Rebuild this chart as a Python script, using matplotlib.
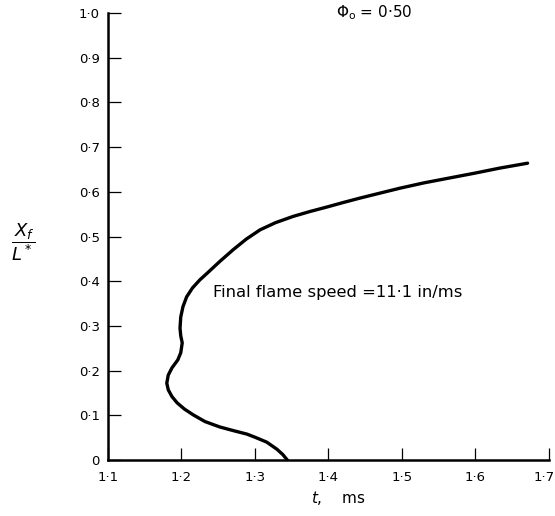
import matplotlib
matplotlib.use("Agg")
import matplotlib.pyplot as plt
import matplotlib.transforms as mtransforms

# flame position X_f/L* versus time t (ms)
t_ms = [1.344, 1.338, 1.330, 1.316, 1.300, 1.289, 1.270, 1.252, 1.232, 1.216,
        1.204, 1.194, 1.187, 1.182, 1.180, 1.182, 1.187, 1.195, 1.199, 1.201,
        1.199, 1.198, 1.199, 1.202, 1.207, 1.215, 1.225, 1.235, 1.252, 1.270,
        1.288, 1.307, 1.328, 1.352, 1.375, 1.398, 1.420, 1.443, 1.470, 1.497,
        1.530, 1.565, 1.600, 1.633, 1.671]
xf = [0.000, 0.012, 0.024, 0.040, 0.051, 0.058, 0.066, 0.074, 0.086, 0.101,
      0.114, 0.128, 0.142, 0.157, 0.172, 0.190, 0.206, 0.224, 0.240, 0.262,
      0.278, 0.295, 0.320, 0.343, 0.365, 0.385, 0.403, 0.418, 0.444, 0.470,
      0.494, 0.515, 0.531, 0.545, 0.556, 0.566, 0.576, 0.586, 0.597, 0.608,
      0.620, 0.631, 0.642, 0.653, 0.664]

xticks = [1.1, 1.2, 1.3, 1.4, 1.5, 1.6, 1.7]
xlabels = ["1·1", "1·2", "1·3", "1·4", "1·5", "1·6", "1·7"]
yticks = [0.0, 0.1, 0.2, 0.3, 0.4, 0.5, 0.6, 0.7, 0.8, 0.9, 1.0]
ylabels = ["0", "0·1", "0·2", "0·3", "0·4", "0·5", "0·6", "0·7", "0·8", "0·9", "1·0"]

fig = plt.figure(figsize=(5.55, 5.16), dpi=100)
ax = fig.add_axes([0.1946, 0.1085, 0.7944, 0.8663])

ax.plot(t_ms, xf, color="black", linewidth=2.4, solid_capstyle="round",
        solid_joinstyle="round")

ax.set_xlim(1.1, 1.7)
ax.set_ylim(0, 1.0)
ax.spines["top"].set_visible(False)
ax.spines["right"].set_visible(False)
ax.spines["left"].set_linewidth(1.8)
ax.spines["bottom"].set_linewidth(1.8)

ax.set_xticks(xticks)
ax.set_xticklabels(xlabels)
ax.set_yticks(yticks)
ax.set_yticklabels(ylabels)
ax.tick_params(direction="in", length=9, width=0.9, labelsize=9.5, pad=6)
ax.tick_params(axis="x", pad=8)

# last x label sits against the right edge of the figure
last = ax.get_xticklabels()[-1]
last.set_transform(last.get_transform() +
                   mtransforms.ScaledTranslation(-5 / 100, 0, fig.dpi_scale_trans))

ax.text(1.243, 0.374, "Final flame speed =11·1 in/ms", fontsize=11.8, va="center")
ax.text(1.41, 1.0, r"$\Phi_{\rm o}$ = 0·50", fontsize=11, va="center")

fig.text(0.61, 0.035, r"$t$,    ms", fontsize=11, ha="center", va="center")
fig.text(0.042, 0.53, r"$\dfrac{X_f}{L^*}$", fontsize=13, ha="center", va="center")

fig.savefig("out.png", dpi=100)
